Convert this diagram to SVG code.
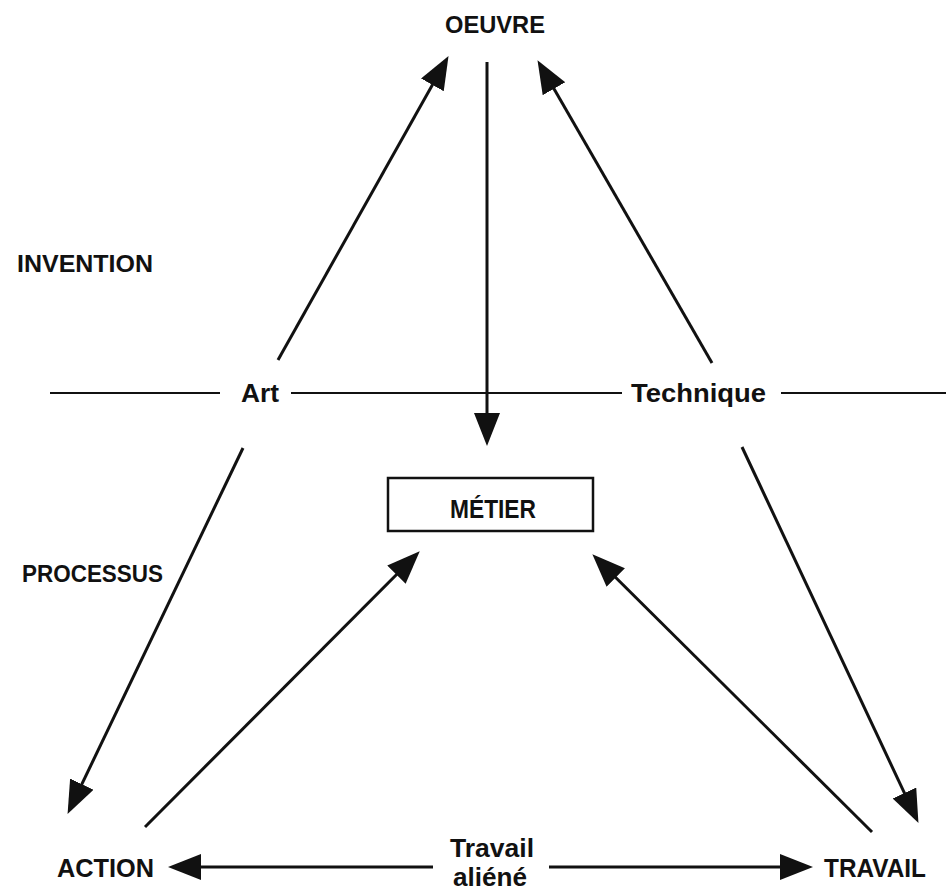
<svg xmlns="http://www.w3.org/2000/svg" width="946" height="894" viewBox="0 0 946 894">
<style>
.t{font-family:"Liberation Sans",Arial,sans-serif;font-weight:bold;font-size:24px;fill:#111}
.c{stroke:#111;stroke-width:3;fill:none;marker-end:url(#ah)}
.g{stroke:#111;stroke-width:1.8;fill:none}
</style>
<defs>
<marker id="ah" markerUnits="userSpaceOnUse" markerWidth="34" markerHeight="28" refX="26" refY="13" orient="auto" viewBox="0 0 34 28">
<path d="M0,0 L33,13 L0,26 Z" fill="#111"/>
</marker>
</defs>
<rect width="946" height="894" fill="#fff"/>
<g id="guides">
<line class="g" x1="50" y1="393" x2="220" y2="393"/>
<line class="g" x1="291" y1="393" x2="622" y2="393"/>
<line class="g" x1="781" y1="393" x2="946" y2="393"/>
</g>
<g id="connectors">
<line class="c" x1="278" y1="360" x2="445.1" y2="62.2"/>
<line class="c" x1="712" y1="363" x2="541" y2="66.2"/>
<line class="c" x1="487" y1="62" x2="487" y2="439"/>
<line class="c" x1="243" y1="448" x2="70.6" y2="807.6"/>
<line class="c" x1="145" y1="827" x2="414.8" y2="556.2"/>
<line class="c" x1="872" y1="832" x2="597.3" y2="559.2"/>
<line class="c" x1="742" y1="447" x2="915.5" y2="816.6"/>
<line class="c" x1="433" y1="867" x2="175" y2="867"/>
<line class="c" x1="549" y1="867" x2="806" y2="867"/>
</g>
<g id="oeuvre"><text class="t" x="445" y="33" textLength="100" lengthAdjust="spacingAndGlyphs">OEUVRE</text></g>
<g id="invention"><text class="t" x="17" y="272" textLength="136" lengthAdjust="spacingAndGlyphs">INVENTION</text></g>
<g id="processus"><text class="t" x="22" y="582" textLength="141" lengthAdjust="spacingAndGlyphs">PROCESSUS</text></g>
<g id="art"><text class="t" x="241" y="402" style="font-size:26px" textLength="38" lengthAdjust="spacingAndGlyphs">Art</text></g>
<g id="technique"><text class="t" x="631" y="402" style="font-size:26px" textLength="135" lengthAdjust="spacingAndGlyphs">Technique</text></g>
<g id="metier">
<rect x="388" y="478" width="205" height="53" fill="none" stroke="#111" stroke-width="2.5"/>
<text class="t" x="450" y="518" style="font-size:25px" textLength="86" lengthAdjust="spacingAndGlyphs">MÉTIER</text>
</g>
<g id="action"><text class="t" x="57" y="877" style="font-size:25px" textLength="97" lengthAdjust="spacingAndGlyphs">ACTION</text></g>
<g id="travail"><text class="t" x="824" y="877" style="font-size:25px" textLength="102" lengthAdjust="spacingAndGlyphs">TRAVAIL</text></g>
<g id="travail-aliene">
<text class="t" x="450" y="857" style="font-size:25px" textLength="84" lengthAdjust="spacingAndGlyphs">Travail</text>
<text class="t" x="453" y="886" style="font-size:25px" textLength="74" lengthAdjust="spacingAndGlyphs">aliéné</text>
</g>
</svg>
